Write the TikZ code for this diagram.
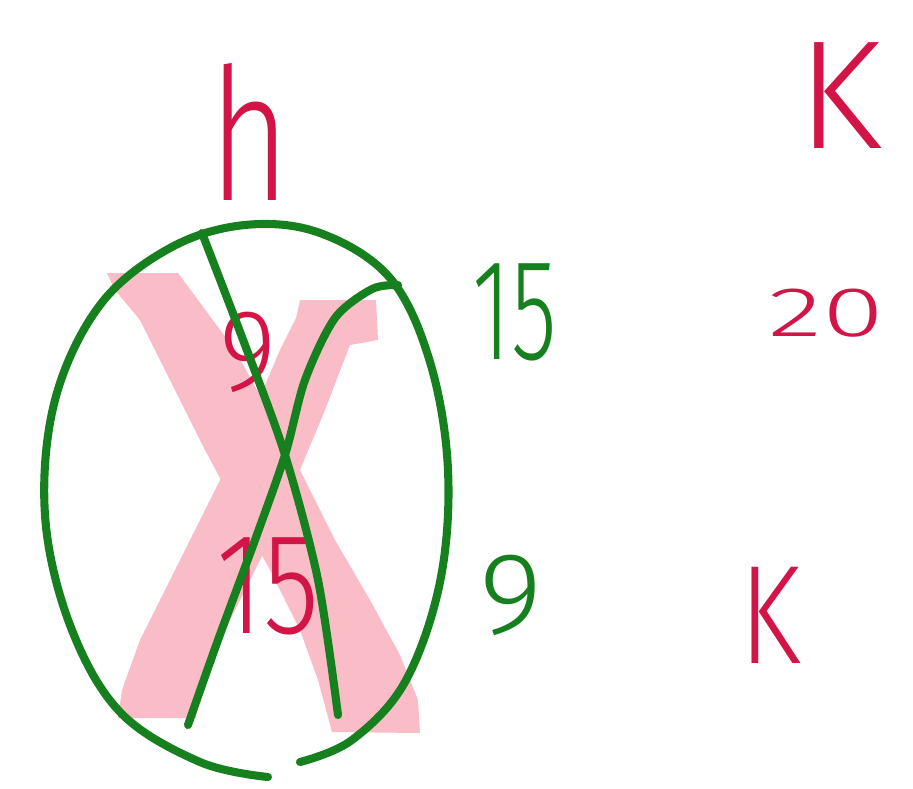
\documentclass[tikz,border=0pt]{standalone}
\usepackage{fontspec}
\newfontfamily\handfont{Fira Sans Light}
\usetikzlibrary{positioning}
\definecolor{inkred}{RGB}{210,20,70}
\definecolor{inkgreen}{RGB}{22,128,30}
\definecolor{xpink}{RGB}{250,188,198}

\begin{document}
\begin{tikzpicture}[x=0.02cm, y=-0.02cm, line cap=round, line join=round,
    pen/.style={inkgreen, line width=4.6pt},
    redtxt/.style={inkred, inner sep=0pt},
    greentxt/.style={inkgreen, inner sep=0pt}]

\useasboundingbox (0,0) rectangle (913,788);

%---------------------------------------
% Big pink cross
%---------------------------------------
\fill[xpink] (107,273) -- (178,273) -- (235,350) -- (290,450) -- (335,540)
  -- (370,600) -- (400,655) -- (418,700) -- (420,733) -- (332,732)
  -- (318,680) -- (300,630) -- (270,570) -- (240,515) -- (205,450)
  -- (170,380) -- (140,320) -- (115,290) -- cycle;
\fill[xpink] (300,300) -- (376,300) -- (378,340) -- (350,345) -- (325,410)
  -- (300,470) -- (270,540) -- (240,600) -- (210,660) -- (198,700)
  -- (196,718) -- (118,718) -- (122,690) -- (140,640) -- (170,580)
  -- (210,500) -- (250,420) -- (280,350) -- (296,318) -- cycle;

%---------------------------------------
% Labels
%---------------------------------------
\node[redtxt, font=\fontsize{105}{105}\selectfont\handfont, xscale=0.75] (h) at (250,132) {h};
\node[redtxt, font=\fontsize{88}{88}\selectfont\handfont] (Ktop) at (840,96) {K};
\node[redtxt, font=\fontsize{40}{40}\selectfont\handfont, xscale=1.6] (twenty) at (826,313) {20};
\node[redtxt, font=\fontsize{80}{80}\selectfont\handfont, xscale=0.8] (Kbot) at (770,615) {K};

\node[redtxt, font=\fontsize{66}{66}\selectfont\handfont, xscale=0.95] (nineIn) at (248,352) {9};
\node[redtxt, font=\fontsize{82}{82}\selectfont\handfont, xscale=0.8] (fifteenIn) at (268,586) {15};

\node[greentxt, font=\fontsize{82}{82}\selectfont\handfont, xscale=0.65] (fifteen) at (515,312) {15};
\node[greentxt, font=\fontsize{66}{66}\selectfont\handfont, xscale=1.05] (nine) at (511,595) {9};

%---------------------------------------
% Green loop and strokes
%---------------------------------------
\draw[pen] plot[smooth, tension=0.6] coordinates {(268,777) (200,762) (120,712)
  (70,625) (45,515) (55,400) (100,305) (170,248) (245,225) (320,233)
  (390,278) (430,362) (448,470) (440,582) (405,682) (352,740) (300,762)};

\draw[pen] plot[smooth] coordinates {(202,233) (245,345) (285,455) (318,580) (338,715)};

\draw[pen] plot[smooth] coordinates {(398,285) (372,289) (335,318) (305,380)
  (285,455) (255,540) (218,640) (188,725)};

\end{tikzpicture}
\end{document}
